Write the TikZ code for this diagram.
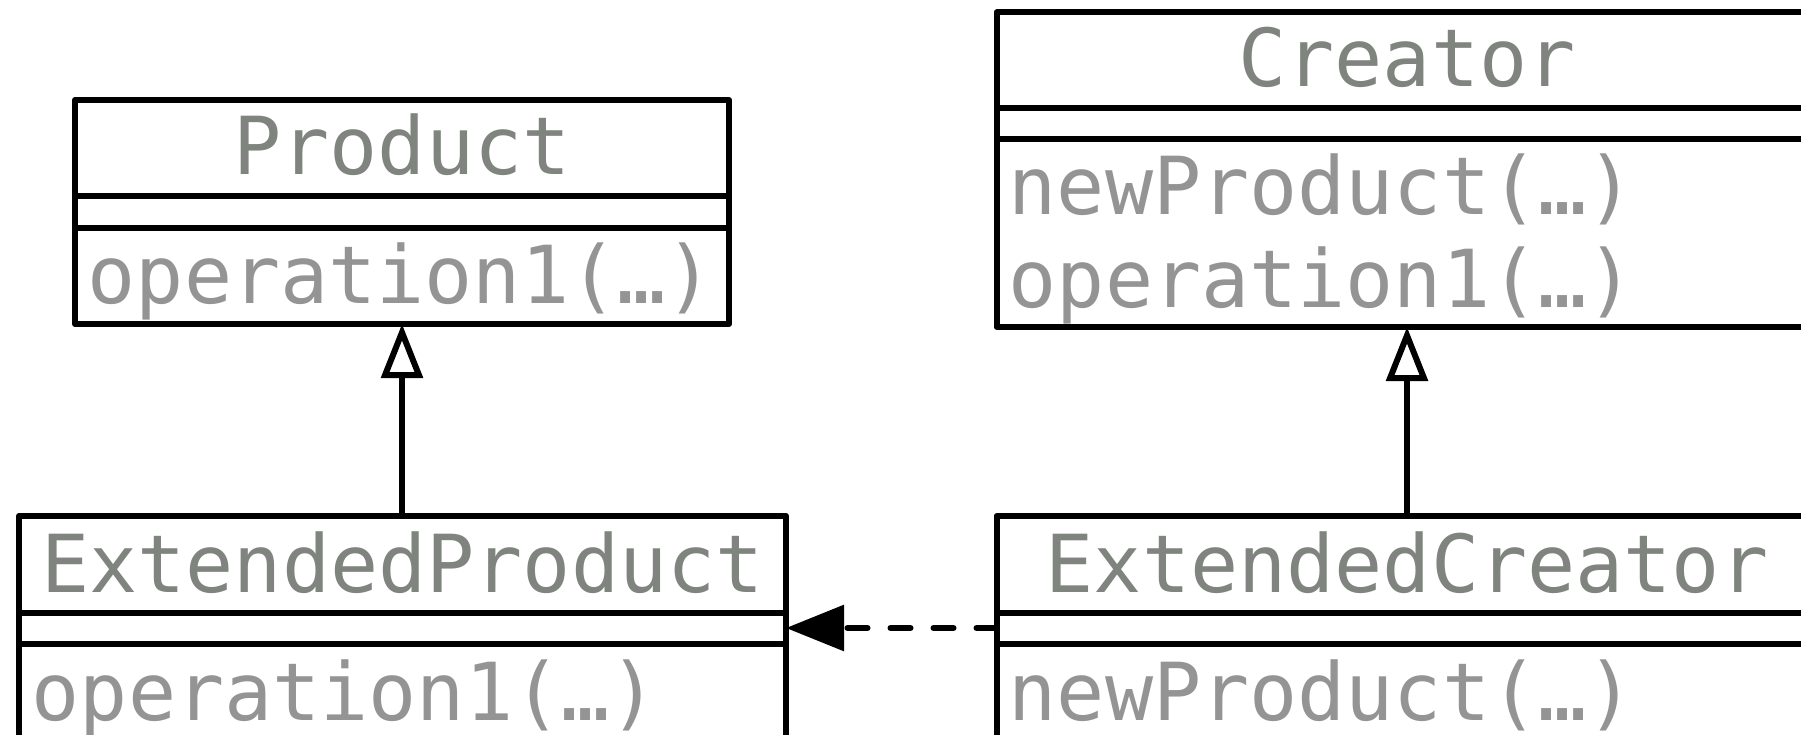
\documentclass[tikz,border=0pt]{standalone}
\usepackage{fontspec}
\newfontfamily\umlmono{DejaVu Sans Mono}
\usetikzlibrary{arrows.meta}
\definecolor{namecol}{HTML}{7F847E}
\definecolor{opcol}{HTML}{949494}
\tikzset{
  classbox/.style={draw=black, line width=6pt, line join=round, fill=white,
    inner sep=0pt, outer sep=0pt, rectangle},
  sepline/.style={draw=black, line width=6pt},
  nametext/.style={font=\umlmono\fontsize{80}{96}\selectfont, text=namecol,
    inner sep=0pt, anchor=base},
  optext/.style={font=\umlmono\fontsize{80}{96}\selectfont, text=opcol,
    inner sep=0pt, anchor=base west},
  inherit/.style={draw=black, line width=6pt,
    -{Triangle[open, length=54pt, width=41pt, line join=miter]}},
  depend/.style={draw=black, line width=6pt, line cap=round,
    dash pattern=on 20pt off 23pt,
    -{Triangle[length=58pt, width=45pt, line cap=butt, sep=0pt]}},
}
\begin{document}
\begin{tikzpicture}[x=1pt, y=-1pt]
\useasboundingbox (0,0) rectangle (1801,735);
\clip (0,0) rectangle (1801,735);

% Product
\node[classbox, minimum width=654pt, minimum height=224pt] (p) at (402,212) {};
\draw[sepline] (75,196) -- (729,196);
\draw[sepline] (75,228) -- (729,228);
\node[nametext] (pn) at (402,175) {Product};
\node[optext] (po) at (87.5,304) {operation1(…)};

% ExtendedProduct
\node[classbox, minimum width=767pt, minimum height=224pt] (ep) at (402.5,628) {};
\draw[sepline] (19,613) -- (786,613);
\draw[sepline] (19,644) -- (786,644);
\node[nametext] (epn) at (402.5,592) {ExtendedProduct};
\node[optext] (epo) at (31.5,720) {operation1(…)};

% Creator
\node[classbox, minimum width=821pt, minimum height=314.5pt] (c) at (1407,169.75) {};
\draw[sepline] (996.5,108.3) -- (1818,108.3);
\draw[sepline] (996.5,139) -- (1818,139);
\node[nametext] (cn) at (1407,87) {Creator};
\node[optext] (cn1) at (1008.5,215) {newProduct(…)};
\node[optext] (co1) at (1008.5,307) {operation1(…)};

% ExtendedCreator
\node[classbox, minimum width=821pt, minimum height=224pt] (ec) at (1407,628) {};
\draw[sepline] (996.5,613) -- (1818,613);
\draw[sepline] (996.5,644) -- (1818,644);
\node[nametext] (ecn) at (1407,592) {ExtendedCreator};
\node[optext] (ecn1) at (1008.5,720) {newProduct(…)};

% connectors
\draw[inherit] (ep.north -| p.south) -- (p.south);
\draw[inherit] (ec.north) -- (c.south);
\coordinate (dy) at (0,628);
\draw[depend] (ec.west |- dy) -- (ep.east |- dy);
\end{tikzpicture}
\end{document}
